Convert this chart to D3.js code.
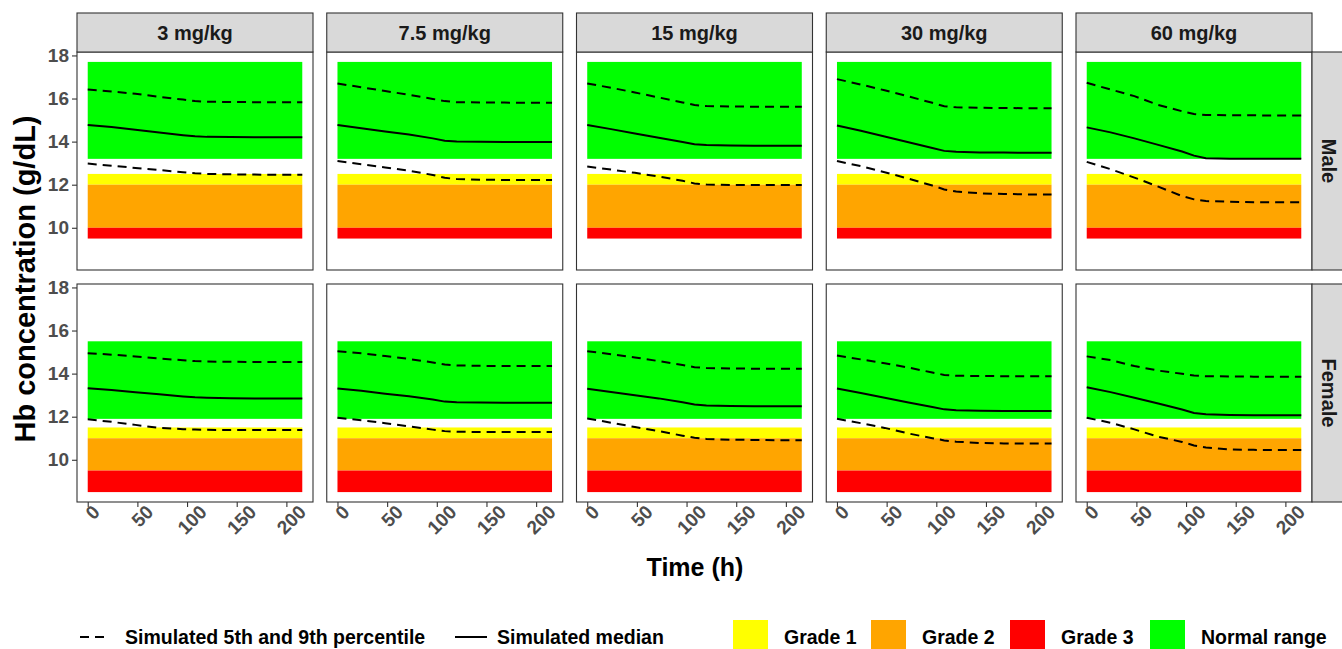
<!DOCTYPE html>
<html><head><meta charset="utf-8">
<script src="https://cdn.jsdelivr.net/npm/d3@7"></script>
<style>
html,body{margin:0;padding:0;background:#fff;}
svg{display:block;font-family:"Liberation Sans",Arial,Helvetica,sans-serif;}
</style></head>
<body><svg id="c" width="1342" height="649"></svg>
<script>
// ---------- data ----------
const doses = ["3 mg/kg", "7.5 mg/kg", "15 mg/kg", "30 mg/kg", "60 mg/kg"];
const sexes = ["Male", "Female"];
const times = [0, 24, 48, 72, 96, 108, 120, 144, 168, 192, 216];
const yTicks = [10, 12, 14, 16, 18];
const xTicks = [0, 50, 100, 150, 200];
const bandTime = [0, 216];
const gradeNames = ["Grade 1", "Grade 2", "Grade 3", "Normal range"];
const gradeColors = ["#ffff00", "#ffa500", "#ff0000", "#00ff00"];
// [low, high] per grade (Grade 1, Grade 2, Grade 3, Normal range)
const maleBands = [[12, 12.5], [10, 12], [9.5, 10], [13.2, 17.7]];
const femaleBands = [[11, 11.5], [9.5, 11], [8.5, 9.5], [11.9, 15.5]];

const maleUpper = [
  [16.42, 16.33, 16.22, 16.08, 15.95, 15.88, 15.85, 15.84, 15.83, 15.83, 15.83],
  [16.70, 16.52, 16.35, 16.17, 15.98, 15.88, 15.83, 15.82, 15.81, 15.80, 15.80],
  [16.70, 16.50, 16.28, 16.05, 15.82, 15.70, 15.65, 15.63, 15.62, 15.62, 15.62],
  [16.90, 16.65, 16.38, 16.10, 15.80, 15.64, 15.59, 15.57, 15.56, 15.55, 15.55],
  [16.73, 16.42, 16.11, 15.70, 15.41, 15.28, 15.24, 15.22, 15.22, 15.21, 15.21]
];
const maleMedian = [
  [14.77, 14.68, 14.55, 14.42, 14.30, 14.25, 14.22, 14.21, 14.20, 14.20, 14.20],
  [14.77, 14.62, 14.47, 14.33, 14.15, 14.04, 14.00, 13.99, 13.98, 13.98, 13.98],
  [14.77, 14.58, 14.38, 14.18, 13.98, 13.88, 13.84, 13.82, 13.81, 13.81, 13.81],
  [14.75, 14.50, 14.24, 13.97, 13.70, 13.57, 13.53, 13.50, 13.49, 13.48, 13.48],
  [14.66, 14.43, 14.15, 13.85, 13.54, 13.35, 13.23, 13.20, 13.20, 13.20, 13.20]
];
const maleLower = [
  [12.98, 12.88, 12.78, 12.68, 12.58, 12.53, 12.50, 12.48, 12.47, 12.46, 12.46],
  [13.10, 12.95, 12.80, 12.65, 12.45, 12.32, 12.26, 12.23, 12.22, 12.22, 12.22],
  [12.84, 12.70, 12.55, 12.38, 12.18, 12.06, 12.01, 11.99, 11.99, 11.99, 11.99],
  [13.10, 12.86, 12.58, 12.28, 11.96, 11.78, 11.68, 11.60, 11.57, 11.55, 11.54],
  [13.06, 12.72, 12.33, 11.91, 11.47, 11.32, 11.24, 11.21, 11.19, 11.18, 11.18]
];
const femaleUpper = [
  [14.95, 14.88, 14.80, 14.70, 14.62, 14.58, 14.56, 14.55, 14.54, 14.54, 14.54],
  [15.04, 14.94, 14.82, 14.68, 14.52, 14.42, 14.38, 14.36, 14.35, 14.35, 14.35],
  [15.04, 14.90, 14.75, 14.58, 14.40, 14.30, 14.26, 14.24, 14.23, 14.23, 14.23],
  [14.84, 14.66, 14.48, 14.28, 14.05, 13.94, 13.90, 13.89, 13.88, 13.88, 13.88],
  [14.80, 14.63, 14.35, 14.14, 13.99, 13.91, 13.88, 13.87, 13.86, 13.86, 13.86]
];
const femaleMedian = [
  [13.32, 13.24, 13.14, 13.04, 12.94, 12.90, 12.88, 12.86, 12.85, 12.85, 12.85],
  [13.31, 13.20, 13.07, 12.95, 12.80, 12.70, 12.67, 12.66, 12.65, 12.65, 12.65],
  [13.30, 13.15, 13.00, 12.85, 12.67, 12.57, 12.52, 12.50, 12.49, 12.48, 12.48],
  [13.31, 13.10, 12.88, 12.66, 12.45, 12.34, 12.30, 12.28, 12.27, 12.27, 12.27],
  [13.37, 13.14, 12.88, 12.61, 12.33, 12.17, 12.11, 12.08, 12.07, 12.07, 12.07]
];
const femaleLower = [
  [11.88, 11.76, 11.62, 11.48, 11.42, 11.40, 11.39, 11.38, 11.38, 11.38, 11.38],
  [11.95, 11.84, 11.70, 11.55, 11.40, 11.33, 11.30, 11.29, 11.29, 11.29, 11.29],
  [11.92, 11.72, 11.52, 11.33, 11.12, 11.02, 10.97, 10.93, 10.92, 10.91, 10.91],
  [11.90, 11.70, 11.48, 11.22, 11.00, 10.90, 10.84, 10.78, 10.76, 10.75, 10.75],
  [11.95, 11.72, 11.41, 11.07, 10.83, 10.66, 10.57, 10.48, 10.46, 10.45, 10.45]
];

// ---------- layout ----------
const svg = d3.select("#c");
const panelW = 236, panelH = 218;
const colX = i => 77 + i * 249.75;
const rowY = [52, 284];
const stripTop = 13;
const FONT_TICK = 19, FONT_STRIP = 20;

const x = d3.scaleLinear().domain([-10.8, 226.8]).range([0, panelW]);
const y = d3.scaleLinear().domain([8.04, 18.16]).range([panelH, 0]);
const line = d3.line().x((d, i) => x(times[i])).y(d => y(d));

const sexData = {
  Male: {bands: maleBands, upper: maleUpper, median: maleMedian, lower: maleLower},
  Female: {bands: femaleBands, upper: femaleUpper, median: femaleMedian, lower: femaleLower}
};

sexes.forEach((sex, r) => {
  const sd = sexData[sex];
  doses.forEach((dose, c) => {
    const g = svg.append("g").attr("transform", `translate(${colX(c)},${rowY[r]})`);
    g.append("rect").attr("width", panelW).attr("height", panelH).attr("fill", "#fff");
    g.selectAll("rect.band").data(sd.bands).join("rect").attr("class", "band")
      .attr("x", x(bandTime[0])).attr("width", x(bandTime[1]) - x(bandTime[0]))
      .attr("y", d => y(d[1])).attr("height", d => y(d[0]) - y(d[1]))
      .attr("fill", (d, i) => gradeColors[i]);
    [sd.upper[c], sd.lower[c]].forEach(arr => {
      g.append("path").attr("d", line(arr)).attr("fill", "none")
        .attr("stroke", "#000").attr("stroke-width", 2).attr("stroke-dasharray", "9,6");
    });
    g.append("path").attr("d", line(sd.median[c])).attr("fill", "none")
      .attr("stroke", "#000").attr("stroke-width", 2);
    g.append("rect").attr("width", panelW).attr("height", panelH)
      .attr("fill", "none").attr("stroke", "#333").attr("stroke-width", 1.1);

    if (c === 0) {
      const ax = g.append("g").call(d3.axisLeft(y).tickValues(yTicks).tickSize(5).tickPadding(3));
      ax.select(".domain").remove();
      ax.selectAll(".tick line").attr("stroke", "#333").attr("stroke-width", 1.1);
      ax.selectAll(".tick text").attr("fill", "#4d4d4d").attr("font-size", FONT_TICK)
        .attr("font-weight", "bold").attr("font-family", "Liberation Sans, Arial, sans-serif");
    }
    if (r === 1) {
      const ax = g.append("g").attr("transform", `translate(0,${panelH})`)
        .call(d3.axisBottom(x).tickValues(xTicks).tickSize(5).tickFormat(d3.format("d")));
      ax.select(".domain").remove();
      ax.selectAll(".tick line").attr("stroke", "#333").attr("stroke-width", 1.1);
      ax.selectAll(".tick text").attr("fill", "#4d4d4d").attr("font-size", FONT_TICK)
        .attr("font-weight", "bold").attr("font-family", "Liberation Sans, Arial, sans-serif")
        .attr("y", null).attr("dy", null)
        .attr("text-anchor", "middle").attr("dominant-baseline", "central")
        .each(function () {
          const L = this.getComputedTextLength();
          const h = (L + 13) * 0.7071;
          d3.select(this).attr("transform", `translate(4.5,${2 + h / 2}) rotate(-45)`);
        });
    }
    if (r === 0) {
      const s = svg.append("g").attr("transform", `translate(${colX(c)},${stripTop})`);
      s.append("rect").attr("width", panelW).attr("height", rowY[0] - stripTop)
        .attr("fill", "#d9d9d9").attr("stroke", "#333").attr("stroke-width", 1.1);
      s.append("text").attr("x", panelW / 2).attr("y", (rowY[0] - stripTop) / 2)
        .attr("text-anchor", "middle").attr("dominant-baseline", "central")
        .attr("font-size", FONT_STRIP).attr("font-weight", "bold").attr("fill", "#1a1a1a").text(dose);
    }
  });
  const sx = colX(4) + panelW;
  const s = svg.append("g").attr("transform", `translate(${sx},${rowY[r]})`);
  s.append("rect").attr("width", 40).attr("height", panelH)
    .attr("fill", "#d9d9d9").attr("stroke", "#333").attr("stroke-width", 1.1);
  s.append("text").attr("transform", `translate(17,${panelH / 2}) rotate(90)`)
    .attr("text-anchor", "middle").attr("dominant-baseline", "central")
    .attr("font-size", FONT_STRIP).attr("font-weight", "bold").attr("fill", "#1a1a1a").text(sex);
});

// axis titles
svg.append("text").attr("x", 695).attr("y", 576).attr("text-anchor", "middle")
  .attr("font-size", 25).attr("font-weight", "bold").attr("fill", "#000").text("Time (h)");
svg.append("text").attr("transform", "translate(35,279) rotate(-90)").attr("text-anchor", "middle")
  .attr("font-size", 29).attr("font-weight", "bold").attr("fill", "#000").text("Hb concentration (g/dL)");

// legend
const legY = 637, legBase = 644, legFont = 19.5;
const lg = svg.append("g");
lg.append("line").attr("x1", 80).attr("x2", 106).attr("y1", legY).attr("y2", legY)
  .attr("stroke", "#000").attr("stroke-width", 2).attr("stroke-dasharray", "9,6");
lg.append("text").attr("x", 125).attr("y", legBase).attr("font-size", legFont).attr("font-weight", "bold")
  .text("Simulated 5th and 9th percentile");
lg.append("line").attr("x1", 455).attr("x2", 487).attr("y1", legY).attr("y2", legY)
  .attr("stroke", "#000").attr("stroke-width", 2);
lg.append("text").attr("x", 497).attr("y", legBase).attr("font-size", legFont).attr("font-weight", "bold")
  .text("Simulated median");
const boxX = [733, 871, 1010, 1150];
gradeNames.forEach((n, i) => {
  lg.append("rect").attr("x", boxX[i]).attr("y", 620).attr("width", 35).attr("height", 35).attr("fill", gradeColors[i]);
  lg.append("text").attr("x", boxX[i] + 51).attr("y", legBase).attr("font-size", legFont)
    .attr("font-weight", "bold").text(n);
});
</script></body></html>
